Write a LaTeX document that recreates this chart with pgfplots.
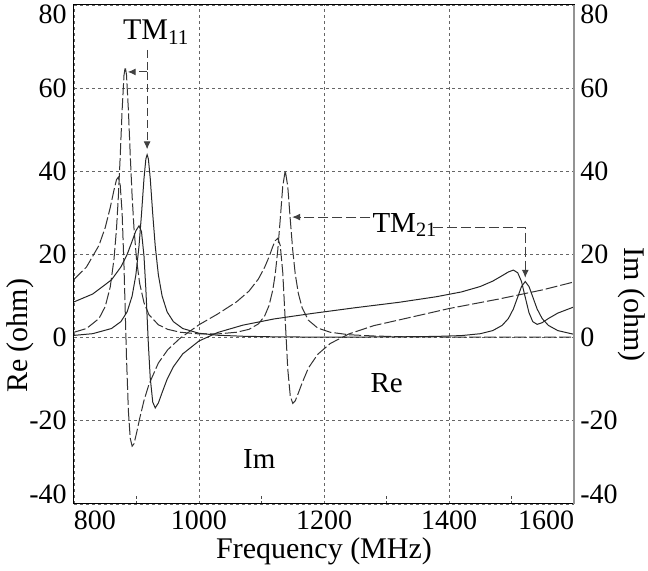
\documentclass[border=0pt]{standalone}
\usepackage{pgfplots}
\pgfplotsset{compat=1.18}
\usepackage{fontspec}
\setmainfont{Liberation Serif}
\usetikzlibrary{arrows.meta}

\pgfplotstableread{
f v
800 1.3
820 2.2
840 4.6
850 7.5
858 12.2
864 18.9
868 26.2
871 34.0
874 43.8
877 54.7
880 63.1
882 65.1
884 63.2
887 54.8
890 43.9
893 34.0
896 26.3
900 18.9
905 13.1
912 8.4
920 5.5
935 3.1
950 2.0
970 1.3
1000 0.9
1030 0.9
1060 1.3
1080 2.0
1095 3.3
1105 5.2
1112 7.7
1118 11.4
1122 15.3
1126 21.0
1130 28.5
1134 36.4
1138 40.2
1142 36.4
1146 28.5
1150 21.0
1154 15.3
1159 10.6
1165 7.2
1175 4.2
1190 2.3
1210 1.3
1240 0.7
1280 0.4
1330 0.2
1400 0.15
1480 0.1
1600 0.1
}\ReA

\pgfplotstableread{
f v
800 14.0
820 17.0
840 22.2
850 26.5
858 31.3
864 35.5
868 38.0
871 38.6
874 36.6
877 30.0
880 17.2
882 6.2
884 -4.8
887 -17.6
890 -24.2
893 -26.1
896 -25.5
900 -23.0
905 -19.5
912 -15.1
920 -11.2
935 -6.1
950 -2.9
970 -0.1
1000 3.1
1030 5.7
1060 8.6
1080 11.2
1095 14.1
1105 16.9
1112 19.4
1118 21.9
1122 23.3
1126 23.9
1130 22.2
1134 15.7
1138 4.1
1142 -7.5
1146 -14.0
1150 -15.8
1154 -15.2
1159 -13.3
1165 -10.9
1175 -7.3
1190 -4.0
1210 -1.4
1240 0.9
1280 2.9
1330 4.6
1400 7.0
1480 9.3
1550 11.5
1600 13.4
}\ImA

\pgfplotstableread{
f v
800 0.55
830 0.96
860 2.2
875 3.85
885 6.2
893 10.0
899 15.1
904 22.0
908 29.7
912 38.3
915 43.0
917 44.0
919 43.0
922 38.3
926 29.7
930 22.0
935 15.1
941 10.0
949 6.2
959 3.85
974 2.2
1000 1.06
1030 0.58
1070 0.34
1120 0.2
1180 0.14
1250 0.14
1320 0.2
1380 0.3
1420 0.5
1450 0.95
1470 1.7
1485 2.95
1495 4.6
1503 6.9
1510 9.8
1516 12.3
1522 13.5
1528 12.3
1534 9.8
1541 6.9
1549 4.6
1559 2.95
1574 1.7
1600 0.8
}\ReB

\pgfplotstableread{
f v
800 8.6
830 10.5
860 13.9
875 17.0
885 20.0
893 23.2
899 25.7
904 26.9
908 25.5
912 19.6
915 11.6
917 5.0
919 -1.6
922 -9.7
926 -15.5
930 -16.9
935 -15.7
941 -13.2
949 -10.0
959 -7.0
974 -3.9
1000 -0.8
1030 1.25
1070 3.0
1120 4.5
1180 5.8
1250 7.2
1320 8.5
1380 9.85
1420 11.0
1450 12.3
1470 13.6
1485 14.9
1495 15.8
1503 16.25
1510 15.6
1516 13.5
1522 9.7
1528 6.0
1534 3.85
1541 3.2
1549 3.6
1559 4.6
1574 5.9
1600 7.4
}\ImB

\begin{document}
\begin{tikzpicture}
\useasboundingbox (-37pt,-33.5pt) rectangle (287pt,252pt);
\begin{axis}[
  scale only axis, width=250pt, height=249.5pt,
  xmin=800, xmax=1600, ymin=-40, ymax=80,
  xtick={800,1000,1200,1400,1600},
  xticklabels={\makebox[0pt][l]{800},1000,1200,1400,\makebox[0pt][r]{1600}},
  minor xtick={900,1100,1300,1500},
  ytick={-40,-20,0,20,40,60,80},
  yticklabels={\raisebox{0pt}[0pt][0pt]{-40},-20,0,20,40,60,\raisebox{-\height}[0pt][0pt]{80}},
  major tick length=0pt,
  minor tick length=4pt,
  tick align=inside,
  minor tick style={black!70, line width=0.4pt, dash pattern=on 1.5pt off 1pt},
  xtick pos=bottom, ytick pos=left,
  grid=major,
  major grid style={black!60, line width=0.4pt, dash pattern=on 1.5pt off 1.5pt},
  axis line style={black, line width=0.5pt},
  ticklabel style={font=\fontsize{14}{16}\selectfont},
  xticklabel style={inner sep=0pt, anchor=north, yshift=-3pt},
  yticklabel style={inner sep=0pt, anchor=east, xshift=-3.5pt},
  clip mode=individual,
]
\addplot[black!80, line width=0.5pt, dash pattern=on 6pt off 1.5pt] table[x=f,y=v]{\ReA};
\addplot[black!80, line width=0.5pt, dash pattern=on 6pt off 1.5pt] table[x=f,y=v]{\ImA};
\addplot[black!85, line width=0.5pt] table[x=f,y=v]{\ReB};
\addplot[black!85, line width=0.5pt] table[x=f,y=v]{\ImB};

% annotations
\node[anchor=base west, inner sep=0pt, font=\fontsize{15}{17}\selectfont] at (axis cs:878,71.6) {TM\textsubscript{11}};
\draw[black!75, line width=0.5pt, dash pattern=on 4pt off 2pt] (axis cs:917,69.2) -- (axis cs:917,63.9);
\draw[black!75, line width=0.5pt, dash pattern=on 4pt off 2pt, -{Latex[length=4pt,width=3.5pt]}] (axis cs:917,63.9) -- (axis cs:886,63.9);
\draw[black!75, line width=0.5pt, dash pattern=on 4pt off 2pt, -{Latex[length=4pt,width=3.5pt]}] (axis cs:917,63.9) -- (axis cs:917,45.3);

\node[anchor=base west, inner sep=0pt, font=\fontsize{14.5}{17}\selectfont] at (axis cs:1277,25.4) {TM\textsubscript{21}};
\draw[black!75, line width=0.5pt, dash pattern=on 5pt off 2pt, -{Latex[length=4pt,width=3.5pt]}] (axis cs:1274,29.0) -- (axis cs:1149,29.0);
\draw[black!75, line width=0.5pt, dash pattern=on 5pt off 2pt, -{Latex[length=4pt,width=3.5pt]}] (axis cs:1374,26.6) -- (axis cs:1522,26.6) -- (axis cs:1522,14.4);

\node[anchor=base west, inner sep=0pt, font=\fontsize{14.5}{17}\selectfont] at (axis cs:1274,-13.1) {Re};
\node[anchor=base west, inner sep=0pt, font=\fontsize{14.5}{17}\selectfont] at (axis cs:1070,-31.4) {Im};

\node[rotate=90, inner sep=0pt, font=\fontsize{15}{17}\selectfont] at ([xshift=-27pt]rel axis cs:0,0.337) {Re (ohm)};
\node[rotate=-90, inner sep=0pt, font=\fontsize{15}{17}\selectfont] at ([xshift=29pt]rel axis cs:1,0.399) {Im (ohm)};
\node[inner sep=0pt, font=\fontsize{15}{17}\selectfont] at ([yshift=-23.5pt]rel axis cs:0.5,0) {Frequency (MHz)};
\end{axis}

\begin{axis}[
  scale only axis, width=250pt, height=249.5pt,
  xmin=800, xmax=1600, ymin=-40, ymax=80,
  axis x line=none, axis y line*=right,
  y axis line style={gray!85, line width=0.9pt, -},
  ytick={-40,-20,0,20,40,60,80},
  yticklabels={\raisebox{0pt}[0pt][0pt]{-40},-20,0,20,40,60,\raisebox{-\height}[0pt][0pt]{80}},
  major tick length=0pt,
  ticklabel style={font=\fontsize{14}{16}\selectfont},
  yticklabel style={inner sep=0pt, anchor=west, xshift=3pt},
]
\end{axis}
\end{tikzpicture}
\end{document}
